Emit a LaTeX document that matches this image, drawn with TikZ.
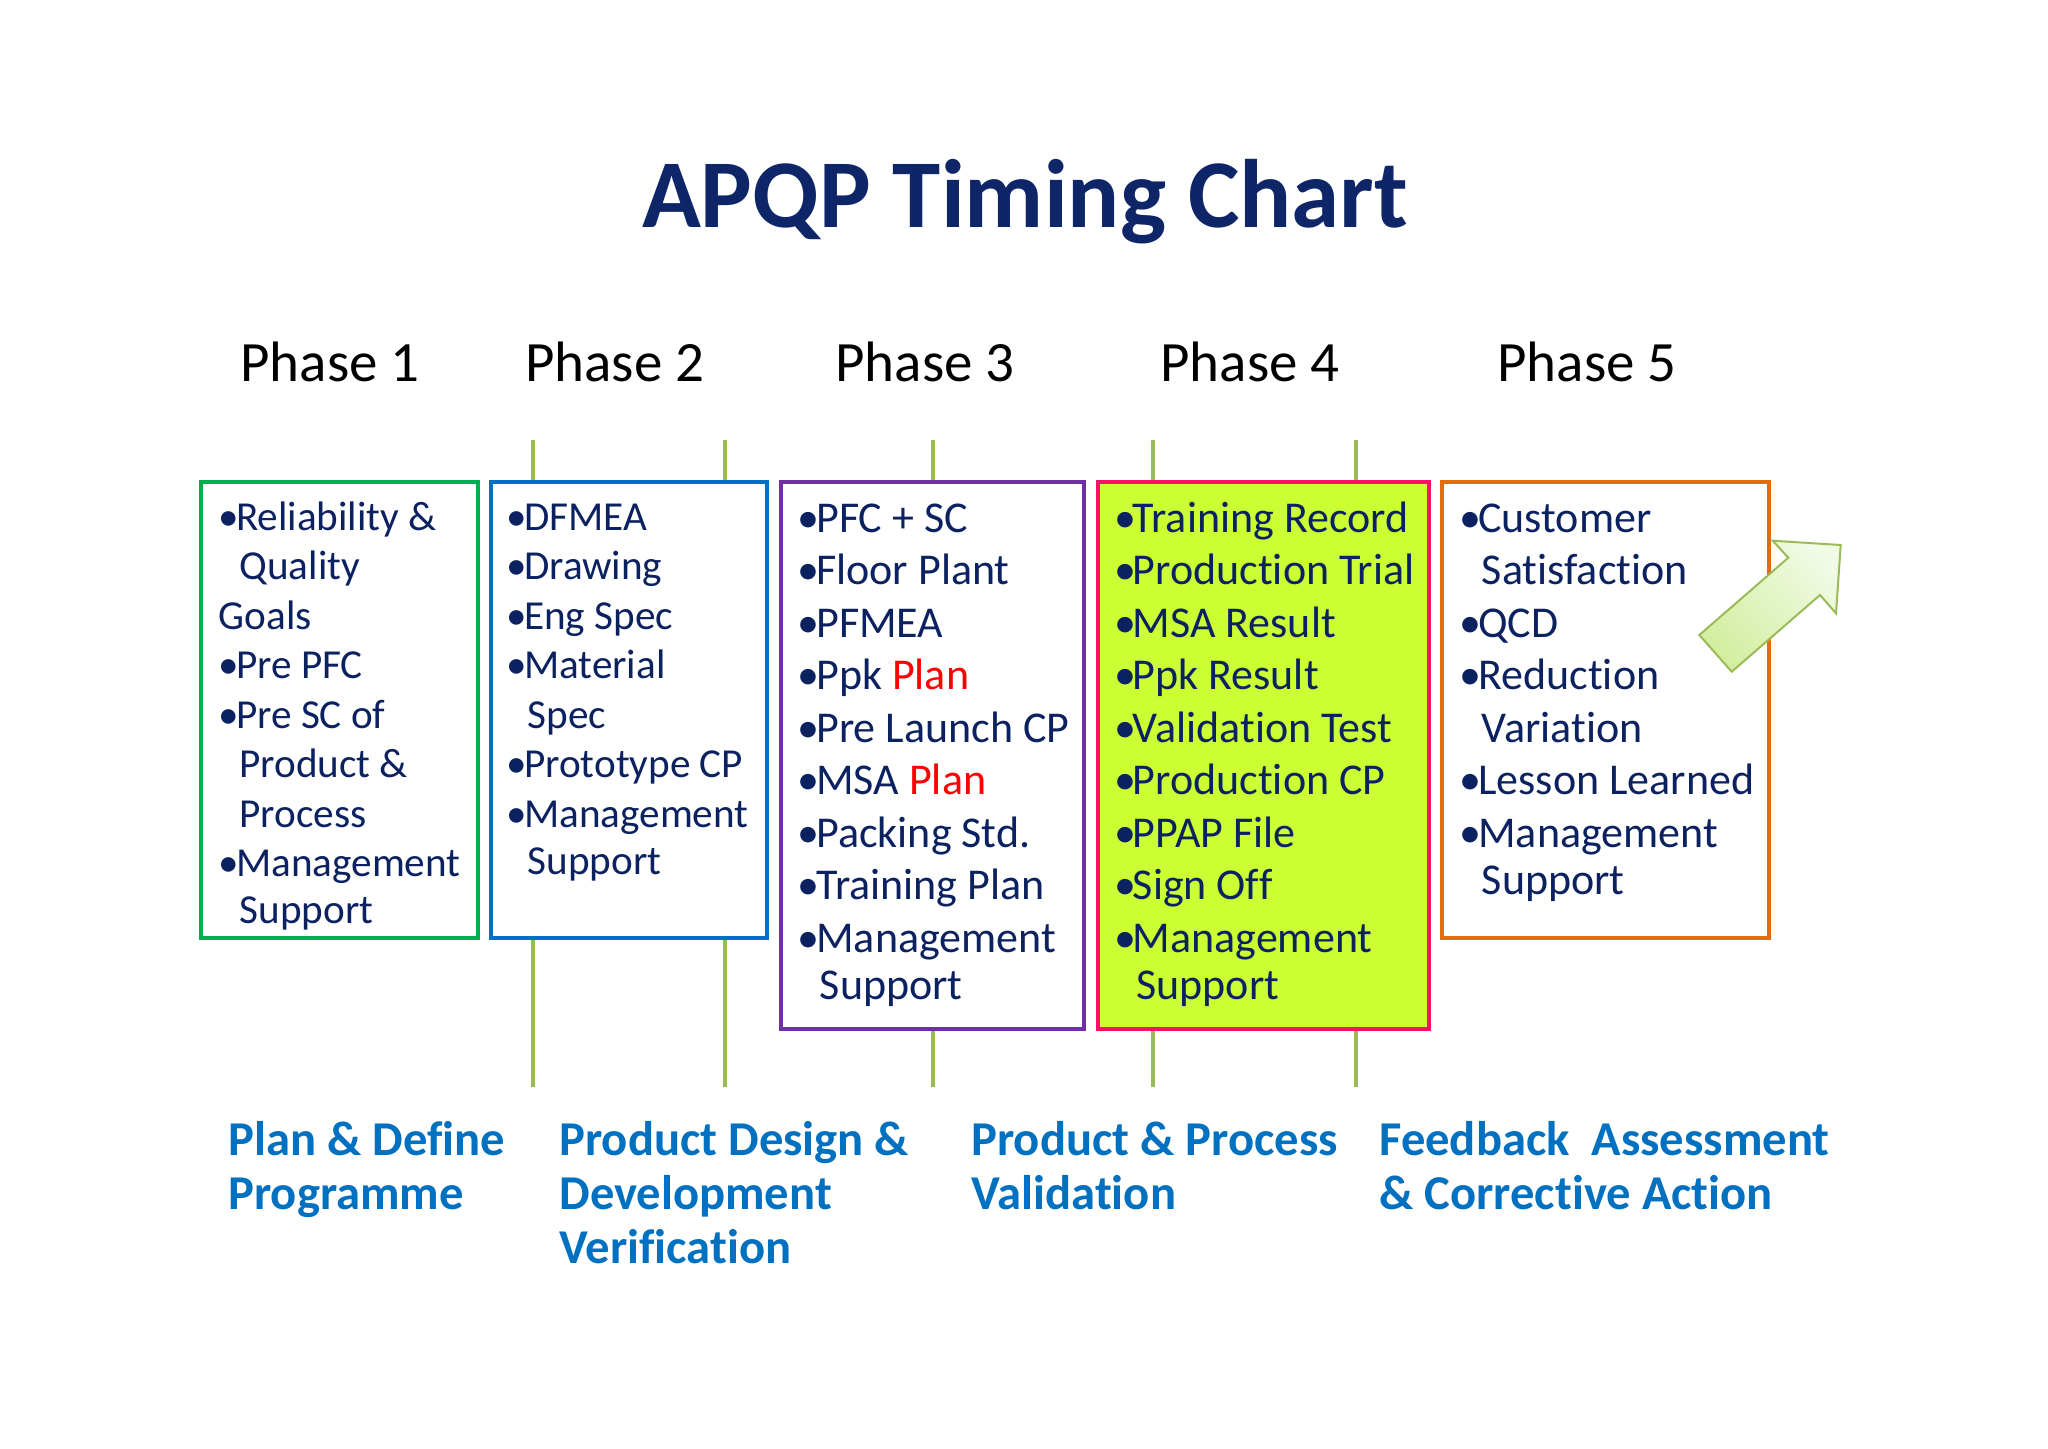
\documentclass[tikz,border=0pt]{standalone}
\usepackage{fontspec}
\setmainfont{Carlito}[Ligatures=NoCommon]
\usetikzlibrary{fit}
\definecolor{navy}{HTML}{0C2260}
\definecolor{titlec}{HTML}{0E2567}
\definecolor{lblue}{HTML}{0070C0}
\definecolor{gbox}{HTML}{00B050}
\definecolor{bbox}{HTML}{0070C0}
\definecolor{pbox}{HTML}{7030A0}
\definecolor{rbox}{HTML}{FF0F66}
\definecolor{lime}{HTML}{CCFF33}
\definecolor{obox}{HTML}{E46C0A}
\definecolor{olive}{HTML}{9BBB59}
\definecolor{redtxt}{HTML}{FF0000}
\definecolor{arrowA}{HTML}{D3EEA0}
\definecolor{arrowB}{HTML}{F0FAE4}
\newcommand{\ind}{\hspace*{0.5em}}
\newcommand{\bu}{•\hspace{-0.08em}}
\tikzset{
  phasebox/.style={draw, line width=2.3pt, inner sep=0pt, fill=white},
  vline/.style={draw=olive, line width=2pt},
  smalltext/.style={anchor=base west, inner sep=0pt, text=navy, font=\fontsize{20.6pt}{24.75pt}\selectfont},
  bigtext/.style={anchor=base west, inner sep=0pt, text=navy, font=\fontsize{22pt}{26.25pt}\selectfont},
  phaselabel/.style={anchor=base, inner sep=0pt, text=black, font=\fontsize{28.5pt}{34pt}\selectfont},
  steplabel/.style={anchor=base west, inner sep=0pt, text=lblue, font=\bfseries\fontsize{24.3pt}{27pt}\selectfont},
  bigarrow/.style={draw=olive, line width=1pt, top color=arrowB, bottom color=arrowA, shading angle=-49}
}
\begin{document}
\begin{tikzpicture}[x=0.5pt,y=-0.5pt]
\useasboundingbox[fill=white] (0,0) rectangle (2048,1448);

% title
\node (title) [anchor=base, inner sep=0pt, text=titlec, font=\bfseries\fontsize{48.6pt}{58pt}\selectfont] at (1025,227.3) {APQP Timing Chart};

% phase labels
\node (ph1) [phaselabel] at (330,381.7) {Phase 1};
\node (ph2) [phaselabel] at (614.7,381.7) {Phase 2};
\node (ph3) [phaselabel] at (925,381.7) {Phase 3};
\node (ph4) [phaselabel] at (1250,381.7) {Phase 4};
\node (ph5) [phaselabel] at (1587,381.7) {Phase 5};

% vertical milestone lines (behind boxes)
\coordinate (v1t) at (533,440);  \coordinate (v1b) at (533,1087);
\coordinate (v2t) at (725,440);  \coordinate (v2b) at (725,1087);
\coordinate (v3t) at (932.5,440); \coordinate (v3b) at (932.5,1087);
\coordinate (v4t) at (1153,440); \coordinate (v4b) at (1153,1087);
\coordinate (v5t) at (1356,440); \coordinate (v5b) at (1356,1087);
\draw[vline] (v1t) -- (v1b);
\draw[vline] (v2t) -- (v2b);
\draw[vline] (v3t) -- (v3b);
\draw[vline] (v4t) -- (v4b);
\draw[vline] (v5t) -- (v5b);

% boxes
\node (b1) [phasebox, draw=gbox, fit={(201,482) (478,938)}] {};
\node (b2) [phasebox, draw=bbox, fit={(491,482) (767,938)}] {};
\node (b3) [phasebox, draw=pbox, fit={(781,482) (1084,1029)}] {};
\node (b4) [phasebox, draw=rbox, fill=lime, fit={(1098,482) (1429,1029)}] {};
\node (b5) [phasebox, draw=obox, fit={(1442,482) (1769,938)}] {};

% box texts
\node (t1) [smalltext] at (218.5,530) {\vtop{%
\hbox{\bu Reliability \&}
\hbox{\ind Quality}
\hbox{Goals}
\hbox{\bu Pre PFC}
\hbox{\bu Pre SC of}
\hbox{\ind Product \&}
\hbox{\ind Process}
\hbox{\bu Management}
\vskip-1.25pt
\hbox{\ind Support}}};

\node (t2) [smalltext] at (506.5,530) {\vtop{%
\hbox{\bu DFMEA}
\hbox{\bu Drawing}
\hbox{\bu Eng Spec}
\hbox{\bu Material}
\hbox{\ind Spec}
\hbox{\bu Prototype CP}
\hbox{\bu Management}
\vskip-1.25pt
\hbox{\ind Support}}};

\node (t3) [bigtext] at (797.5,532) {\vtop{%
\hbox{\bu PFC + SC}
\hbox{\bu Floor Plant}
\hbox{\bu PFMEA}
\hbox{\bu Ppk \textcolor{redtxt}{Plan}}
\hbox{\bu Pre Launch CP}
\hbox{\bu MSA \textcolor{redtxt}{Plan}}
\hbox{\bu Packing Std.}
\hbox{\bu Training Plan}
\hbox{\bu Management}
\vskip-2.4pt
\hbox{\ind Support}}};

\node (t4) [bigtext] at (1114,532) {\vtop{%
\hbox{\bu Training Record}
\hbox{\bu Production Trial}
\hbox{\bu MSA Result}
\hbox{\bu Ppk Result}
\hbox{\bu Validation Test}
\hbox{\bu Production CP}
\hbox{\bu PPAP File}
\hbox{\bu Sign Off}
\hbox{\bu Management}
\vskip-2.4pt
\hbox{\ind Support}}};

\node (t5) [bigtext] at (1459.5,532) {\vtop{%
\hbox{\bu Customer}
\hbox{\ind Satisfaction}
\hbox{\bu QCD}
\hbox{\bu Reduction}
\hbox{\ind Variation}
\hbox{\bu Lesson Learned}
\hbox{\bu Management}
\vskip-2.4pt
\hbox{\ind Support}}};

% arrow
\draw[bigarrow] (1699.3,635) -- (1788.3,557.7) -- (1772.7,540.7) -- (1840.7,545)
  -- (1836,613.3) -- (1820,595) -- (1731.7,671.7) -- cycle;

% bottom stage labels
\node (s1) [steplabel] at (228,1155) {\vtop{\hbox{Plan \& Define}\hbox{Programme}}};
\node (s2) [steplabel] at (559,1155) {\vtop{\hbox{Product Design \&}\hbox{Development}\hbox{Verification}}};
\node (s3) [steplabel] at (971,1155) {\vtop{\hbox{Product \& Process}\hbox{Validation}}};
\node (s4) [steplabel] at (1379,1155) {\vtop{\hbox{Feedback\ \ Assessment}\hbox{\& Corrective Action}}};
\end{tikzpicture}
\end{document}
